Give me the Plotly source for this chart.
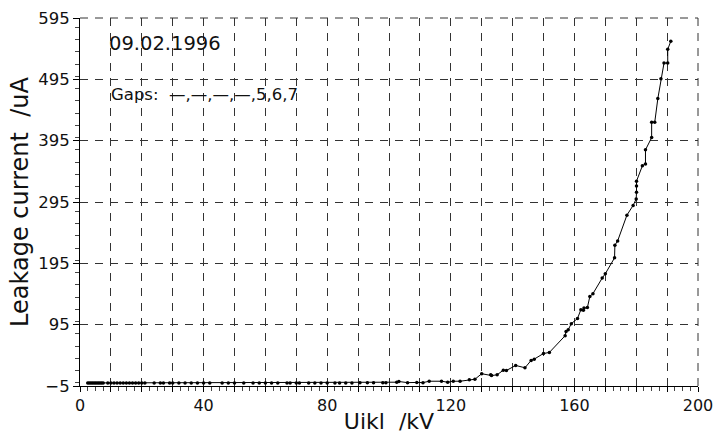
import plotly.graph_objects as go

# Voltage (kV) and leakage current (uA)
u_kv = [2.5, 3, 3.5, 4, 4.5, 5, 5.5, 6, 6.5, 7, 7.5, 9, 10, 11, 12, 13, 14, 15, 16, 17,
        18, 19, 20, 21, 24, 26, 27, 29, 30, 32, 34, 36, 38, 40, 42, 46, 48, 50, 53, 56,
        58, 60, 62, 64, 67, 68, 70, 71, 74, 76, 78, 80, 82.5, 84, 86, 88, 90.6, 93, 95,
        98, 99, 102.5, 103.2, 106, 109, 111, 113, 117, 119, 120.8, 123, 126, 127.8, 130,
        132.9, 133.2, 135, 137, 138, 141, 144, 146, 147, 150, 151.9, 157, 157.3, 158, 159,
        161, 162.1, 162.9, 163.1, 164.2, 165, 166, 169, 170, 173, 173.1, 174, 177, 179,
        180, 180.1, 180.1, 180.1, 182, 183, 183, 185, 185, 186, 187, 188, 189, 190.2,
        190.2, 191.2]
i_ua = [0, 0, 0, 0, 0, 0, 0, 0, 0, 0, 0, 0, 0, 0, 0, 0, 0, 0, 0, 0,
        0, 0, 0, 0, 0, 0, 0, 0, 0, 0, 0, 0, 0, 0, 0, 0, 0, 0, 0, 0,
        0, 0, 0, 0, 0, 0, 0, 0, 0, 0, 0, 0, 0, 0, 0, 0, 0.3, 0.3, 0.3,
        0.3, 0.5, 1.2, 2.3, 0.5, 0.8, 0.5, 2.8, 2.8, 1.2, 2.8, 2.8, 5, 6, 15,
        13.3, 12, 13.3, 20.8, 20.3, 28.5, 24.7, 36.7, 38.8, 48, 49.7, 77, 84, 86.8, 96.6,
        105, 119.5, 118.4, 122, 122.8, 141, 145.6, 171, 178, 204, 224.6, 231.6, 273.6, 289.4,
        300, 311, 321, 329, 354, 357, 380, 400, 425, 425, 463.6, 496, 521.5, 521.5,
        544, 557]

x_tickvals = list(range(0, 201, 10))
x_ticktext = [str(v) if v % 40 == 0 else "" for v in x_tickvals]

FONT = "DejaVu Sans"
INK = "#111111"
GRID_DASH = "8px,7px"

fig = go.Figure()
fig.add_trace(go.Scatter(
    x=u_kv, y=i_ua, mode="lines+markers",
    line=dict(color="black", width=1),
    marker=dict(color="black", size=3.5),
    showlegend=False,
))

fig.add_annotation(x=8.7, y=554, xref="x", yref="y", text="09.02.1996",
                   showarrow=False, xanchor="left", yanchor="middle",
                   font=dict(family=FONT, size=19.5, color=INK))
fig.add_annotation(x=9.3, y=471, xref="x", yref="y", text="Gaps:  —,—,—,—,5,6,7",
                   showarrow=False, xanchor="left", yanchor="middle",
                   font=dict(family=FONT, size=16.5, color=INK))

# grid lines at the far ends of the axes (top and right edges of the plot)
fig.add_shape(type="line", xref="paper", yref="paper", x0=0, x1=1, y0=1, y1=1,
              line=dict(color="#333333", width=1, dash=GRID_DASH), layer="below")
fig.add_shape(type="line", xref="paper", yref="paper", x0=1, x1=1, y0=0, y1=1,
              line=dict(color="#333333", width=1, dash=GRID_DASH), layer="below")

fig.update_layout(
    width=714, height=434,
    margin=dict(l=80, r=16, t=18, b=48),
    paper_bgcolor="white", plot_bgcolor="white",
    font=dict(family=FONT, size=16, color=INK),
)
fig.update_xaxes(
    range=[0, 200], tickvals=x_tickvals, ticktext=x_ticktext, automargin=False,
    ticklabeloverflow="allow",
    showgrid=True, gridcolor="#333333", gridwidth=1, griddash=GRID_DASH,
    showline=True, linecolor="black", linewidth=1, zeroline=False,
    ticks="outside", ticklen=5, tickcolor="black",
    minor=dict(dtick=2.5, ticks="outside", ticklen=4, tickcolor="#444444", showgrid=False),
    title=dict(text="Uikl  /kV", font=dict(size=22), standoff=0),
    tickfont=dict(size=16),
)
fig.update_yaxes(
    range=[-5, 595], tick0=-5, dtick=100, automargin=False,
    ticklabeloverflow="allow",
    showgrid=True, gridcolor="#333333", gridwidth=1, griddash=GRID_DASH,
    showline=True, linecolor="black", linewidth=1, zeroline=False,
    ticks="outside", ticklen=6, tickcolor="black",
    minor=dict(dtick=20, ticks="outside", ticklen=4, tickcolor="#444444", showgrid=False),
    title=dict(text="Leakage current  /uA", font=dict(size=24), standoff=2),
    tickfont=dict(size=16.5),
)

# remove the page's default body margin so the 714x434 figure fills the window exactly
fig.write_html(
    "out.html",
    config={"displayModeBar": False},
    post_script="document.body.style.margin='0';document.body.style.overflow='hidden';",
)
